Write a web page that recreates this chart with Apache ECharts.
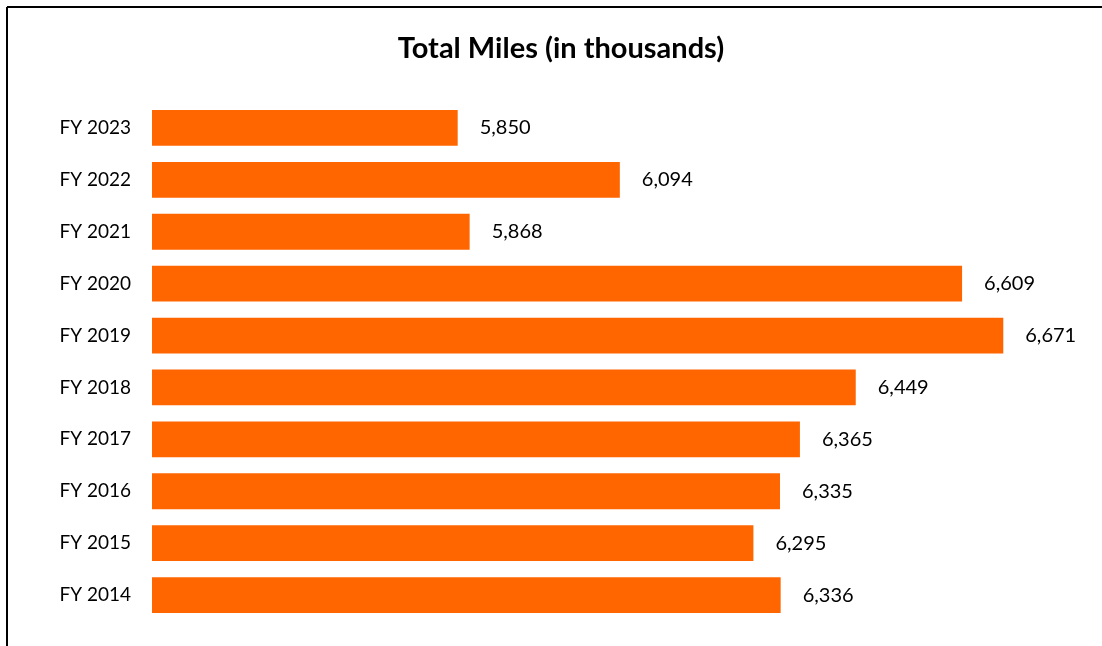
<!DOCTYPE html>
<html>
<head>
<meta charset="utf-8">
<script src="https://cdn.jsdelivr.net/npm/echarts@6/dist/echarts.min.js"></script>
<style>
html,body{margin:0;padding:0;background:#fff;}
#chart{width:1102px;height:646px;}
</style>
</head>
<body>
<div id="chart"></div>
<script>
const categories = ['FY 2014','FY 2015','FY 2016','FY 2017','FY 2018','FY 2019','FY 2020','FY 2021','FY 2022','FY 2023'];
const totalMiles = [6336, 6295, 6335, 6365, 6449, 6671, 6609, 5868, 6094, 5850];
const titleText = 'Total Miles (in thousands)';

const chart = echarts.init(document.getElementById('chart'));
chart.setOption({
  backgroundColor: '#ffffff',
  animation: false,
  grid: { left: 152, right: 13, top: 102, bottom: 25 },
  xAxis: {
    type: 'value', min: 5390, max: 6800, show: false
  },
  yAxis: {
    type: 'category', data: categories,
    axisLine: { show: false }, axisTick: { show: false },
    axisLabel: { color: '#000', fontFamily: 'Lato', fontSize: 19, margin: 21 }
  },
  series: [{
    type: 'bar', data: totalMiles, barCategoryGap: '31%',
    itemStyle: { color: '#FF6600' },
    label: {
      show: true, position: 'right', distance: 22, color: '#000',
      fontFamily: 'Lato', fontSize: 20,
      formatter: p => p.value.toLocaleString('en-US')
    }
  }],
  graphic: [
    { type: 'line', shape: { x1: 7, y1: 7, x2: 1102, y2: 7 }, style: { stroke: '#000', lineWidth: 2 } },
    { type: 'line', shape: { x1: 7, y1: 7, x2: 7, y2: 646 }, style: { stroke: '#000', lineWidth: 2 } },
    { type: 'text', x: 561, y: 49, style: { text: titleText, textAlign: 'center', textVerticalAlign: 'middle', font: 'bold 29px Lato', fill: '#000' } }
  ]
});
</script>
</body>
</html>
